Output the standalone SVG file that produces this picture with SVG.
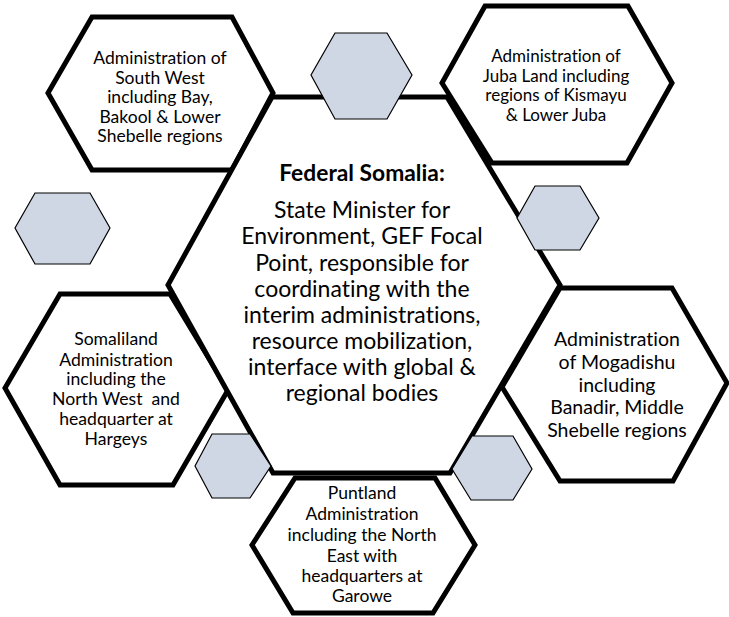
<svg xmlns="http://www.w3.org/2000/svg" width="729" height="617" viewBox="0 0 729 617">
<style>
.big{fill:#fff;stroke:#000;stroke-width:5;stroke-linejoin:miter}
.small{fill:#CFD6E4;stroke:#000;stroke-width:1.2}
text{font-family:Lato,"Liberation Sans",sans-serif;fill:#000;text-anchor:middle;font-variant-ligatures:none;font-feature-settings:"liga" 0,"clig" 0,"dlig" 0;letter-spacing:0.01px}
.c{font-size:23px}
.t{font-size:22.8px;font-weight:bold}
.sw{font-size:17.5px}
.j{font-size:17px}
.s{font-size:17.6px}
.m{font-size:19.5px}
.p{font-size:17.5px}
</style>
<rect width="729" height="617" fill="#fff"/>
<g id="connectors"/>
<g id="node-southwest">
<polygon class="big" points="92,17 232,17 273,93 232,170 92,170 48,93"/>
<text class="sw" x="160" y="64">Administration of</text>
<text class="sw" x="160" y="84">South West</text>
<text class="sw" x="160" y="103">including Bay,</text>
<text class="sw" x="160" y="123">Bakool &amp; Lower</text>
<text class="sw" x="160" y="142">Shebelle regions</text>
</g>
<g id="node-jubaland">
<polygon class="big" points="485,6 628,6 672,83 627,163 492,163 442,83"/>
<text class="j" x="556" y="62">Administration of</text>
<text class="j" x="556" y="82">Juba Land including</text>
<text class="j" x="556" y="101">regions of Kismayu</text>
<text class="j" x="556" y="121">&amp; Lower Juba</text>
</g>
<g id="node-somaliland">
<polygon class="big" points="60,294 170,294 228,390 173,485 60,485 5,388"/>
<text class="s" x="116" y="345">Somaliland</text>
<text class="s" x="116" y="366">Administration</text>
<text class="s" x="116" y="385">including the</text>
<text class="s" x="116" y="405" xml:space="preserve">North West  and</text>
<text class="s" x="116" y="425">headquarter at</text>
<text class="s" x="116" y="445">Hargeys</text>
</g>
<g id="node-mogadishu">
<polygon class="big" points="560,288 672,288 727,383 673,481 560,481 502,387"/>
<text class="m" x="617" y="346">Administration</text>
<text class="m" x="617" y="369">of Mogadishu</text>
<text class="m" x="617" y="392">including</text>
<text class="m" x="617" y="414">Banadir, Middle</text>
<text class="m" x="617" y="437">Shebelle regions</text>
</g>
<g id="node-puntland">
<polygon class="big" points="295,478 435,478 475,545 433,613 293,613 252,545"/>
<text class="p" x="362" y="499">Puntland</text>
<text class="p" x="362" y="520">Administration</text>
<text class="p" x="362" y="541">including the North</text>
<text class="p" x="362" y="562">East with</text>
<text class="p" x="362" y="582">headquarters at</text>
<text class="p" x="362" y="602">Garowe</text>
</g>
<g id="node-federal">
<polygon class="big" points="272,97 447,97 560,285 450,473 273,473 168,285"/>
<text class="t" x="362" y="181">Federal Somalia:</text>
<text class="c" x="362" y="218">State Minister for</text>
<text class="c" x="362" y="244">Environment, GEF Focal</text>
<text class="c" x="362" y="271">Point, responsible for</text>
<text class="c" x="362" y="297">coordinating with the</text>
<text class="c" x="362" y="323">interim administrations,</text>
<text class="c" x="362" y="349">resource mobilization,</text>
<text class="c" x="362" y="375">interface with global &amp;</text>
<text class="c" x="362" y="401">regional bodies</text>
</g>
<g id="deco-hexagons">
<polygon class="small" points="335,33 387,33 412,75 387,119 335,119 311,75"/>
<polygon class="small" points="35,193 90,193 110,228 90,264 35,264 15,228"/>
<polygon class="small" points="535,186 580,186 599,218 580,250 535,250 517,218"/>
<polygon class="small" points="212,434 250,434 271,466 250,498 212,498 195,466"/>
<polygon class="small" points="472,436 513,436 532,469 513,500 471,500 452,469"/>
</g>
</svg>
